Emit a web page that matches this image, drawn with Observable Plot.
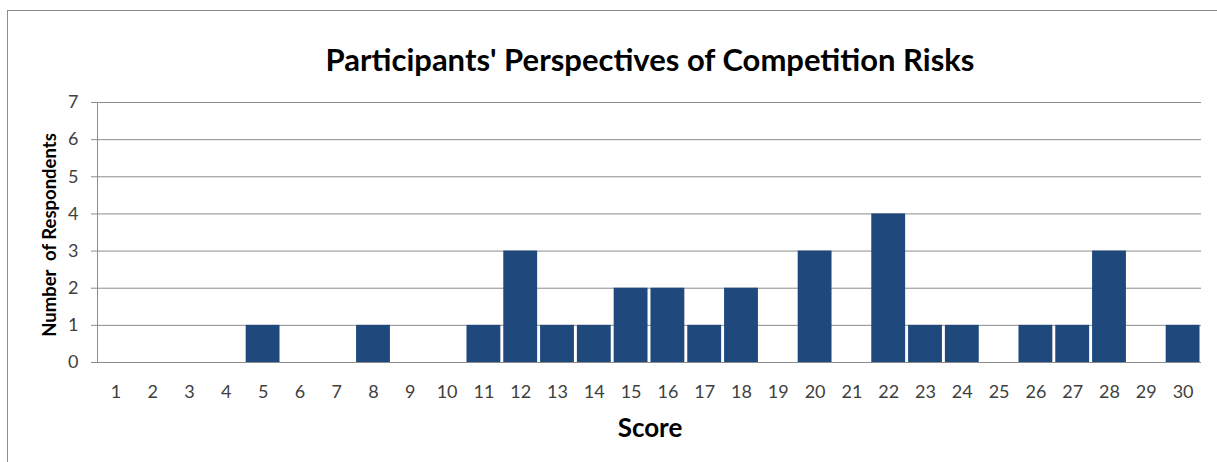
<!DOCTYPE html>
<html>
<head>
<meta charset="utf-8">
<script src="https://cdn.jsdelivr.net/npm/d3@7"></script>
<script src="https://cdn.jsdelivr.net/npm/@observablehq/plot@0.6"></script>
<style>
  html, body { margin: 0; padding: 0; background: #fff; }
  #wrap { position: relative; width: 1217px; height: 462px; overflow: hidden; font-family: Lato, "Open Sans", sans-serif; }
  #frame { position: absolute; left: 7px; top: 10px; width: 1220px; height: 470px; border: 1px solid #8c8c8c; box-sizing: border-box; }
  #title { position: absolute; left: 0; width: 1300px; top: 39px; text-align: center; font-weight: bold; font-size: 31px; line-height: 40px; color: #000; }
  #xlabel { position: absolute; left: 0; width: 1300px; top: 411px; text-align: center; font-weight: bold; font-size: 26px; line-height: 32px; color: #000; }
  #ylabel { position: absolute; left: 49px; top: 235px; transform: translate(-50%, -50%) rotate(-90deg); white-space: nowrap; font-weight: bold; font-size: 18.5px; color: #000; }
  #chart { position: absolute; left: 0; top: 0; width: 1217px; height: 462px; }
  #chart svg { max-width: none !important; }
</style>
</head>
<body>
<div id="wrap">
  <div id="frame"></div>
  <div id="chart"></div>
  <div id="title">Participants' Perspectives of Competition Risks</div>
  <div id="ylabel">Number&nbsp; of Respondents</div>
  <div id="xlabel">Score</div>
</div>
<script>
// Score categories and how many respondents gave each score
const scores = d3.range(1, 31);
const respondents = [0, 0, 0, 0, 1, 0, 0, 1, 0, 0,
                     1, 3, 1, 1, 2, 2, 1, 2, 0, 3,
                     0, 4, 1, 1, 0, 1, 1, 3, 0, 1];
const yTicks = [0, 1, 2, 3, 4, 5, 6, 7];

const data = scores.map((s, i) => ({score: s, count: respondents[i]}));

const chart = Plot.plot({
  width: 1217,
  height: 462,
  marginLeft: 97,
  marginRight: 16,
  marginTop: 102,
  marginBottom: 100,
  style: {fontFamily: "Lato, 'Open Sans', sans-serif", fontSize: "18px", color: "#404040", background: "transparent"},
  x: {type: "band", domain: scores, paddingInner: 0.08, paddingOuter: 0.04, round: false, label: null},
  y: {domain: [0, 7], label: null},
  marks: [
    Plot.gridY(yTicks, {stroke: "#8c8c8c", strokeOpacity: 1, strokeWidth: 1}),
    Plot.frame({anchor: "left", stroke: "#8c8c8c"}),
    Plot.axisY(yTicks, {tickSize: 6, tickPadding: 13, stroke: "#8c8c8c", fill: "#404040", fontSize: 18}),
    Plot.axisX({tickSize: 0, tickPadding: 23, fill: "#404040", fontSize: 18}),
    Plot.barY(data, {x: "score", y: "count", fill: "#1f497d"}),
    Plot.ruleY([0], {stroke: "#8c8c8c"})
  ]
});
document.getElementById("chart").appendChild(chart);
</script>
</body>
</html>
